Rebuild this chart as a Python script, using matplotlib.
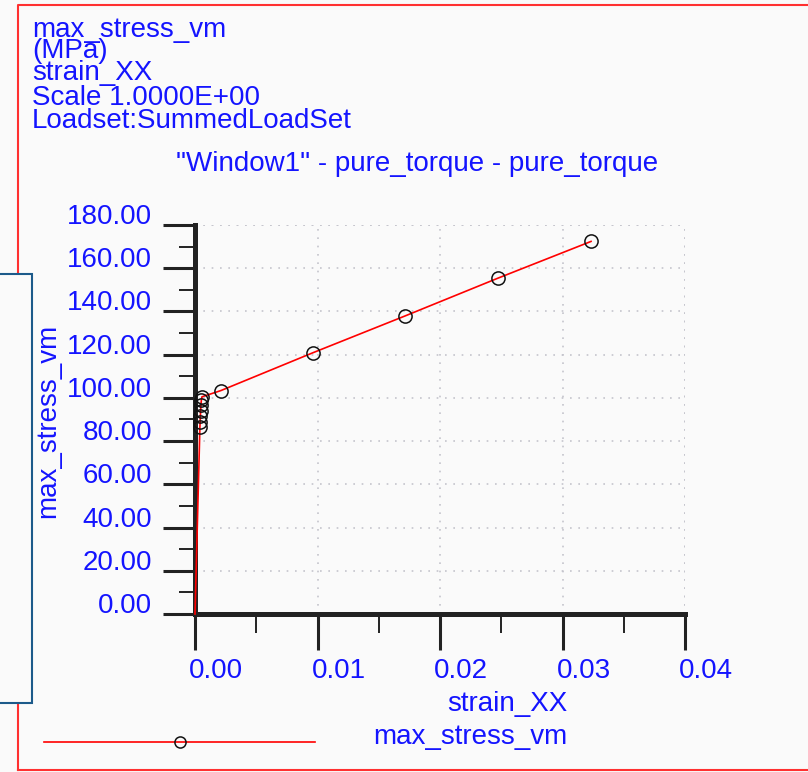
import matplotlib
matplotlib.use("Agg")
import matplotlib.pyplot as plt
from matplotlib.transforms import ScaledTranslation
from matplotlib.patches import Rectangle
from matplotlib.lines import Line2D

# strain / von Mises stress curve
strain = [0.0, 0.00040, 0.00042, 0.00044, 0.00046, 0.00048, 0.00052, 0.00057,
          0.00212, 0.00963, 0.01714, 0.02473, 0.03233]
stress = [0.0, 86.5, 89.0, 91.5, 94.0, 96.5, 99.0, 100.5,
          103.4, 120.9, 137.9, 155.4, 172.4]

x_ticks = [0.00, 0.01, 0.02, 0.03, 0.04]
y_ticks = [0, 20, 40, 60, 80, 100, 120, 140, 160, 180]
header = ["max_stress_vm", "(MPa)", "strain_XX", "Scale 1.0000E+00",
          "Loadset:SummedLoadSet"]
header_base = [37, 58, 80, 105, 128]

W, H = 808, 772
BLUE = "#1414ff"
BG = "#fafafa"
plt.rcParams["font.family"] = ["Liberation Sans", "DejaVu Sans"]

fig = plt.figure(figsize=(W / 100, H / 100), dpi=100, facecolor=BG)


def fx(px):
    return px / W


def fy(py):
    return 1 - py / H


# window frame + overlapping side panel
fig.add_artist(Line2D([fx(18), fx(18), fx(808)], [fy(770), fy(5), fy(5)],
                      color="#ff3030", lw=1.5))
fig.add_artist(Line2D([fx(18), fx(808)], [fy(770), fy(770)], color="#ff3030", lw=1.5))
fig.add_artist(Rectangle((fx(-2), fy(703)), fx(34), fy(274) - fy(703),
                         transform=fig.transFigure, facecolor=BG,
                         edgecolor="#1c5a8a", lw=1.5, zorder=5))

for txt, b in zip(header, header_base):
    fig.text(fx(32), fy(b), txt, color=BLUE, fontsize=20, va="baseline", ha="left")

fig.text(fx(417), fy(171), '"Window1" - pure_torque - pure_torque', color=BLUE,
         fontsize=20, ha="center", va="baseline")

ax = fig.add_axes([fx(195), fy(614), fx(685) - fx(195), fy(225) - fy(614)])
ax.set_facecolor(BG)
ax.set_xlim(0, 0.04)
ax.set_ylim(0, 180)

ax.plot(strain, stress, color="red", lw=1.2, zorder=6, clip_on=False)
ax.plot(strain[1:], stress[1:], ls="none", marker="o", ms=9.5, mfc="none",
        mec="#111111", mew=1.1, zorder=7, clip_on=False)

for s in ["top", "right"]:
    ax.spines[s].set_visible(False)
for s in ["left", "bottom"]:
    ax.spines[s].set_linewidth(3.6)
    ax.spines[s].set_color("#222222")

ax.set_xticks(x_ticks)
ax.set_xticklabels([f"{v:.2f}" for v in x_ticks])
ax.set_xticks([0.005, 0.015, 0.025, 0.035], minor=True)
ax.set_yticks(y_ticks)
ax.set_yticklabels([f"{v:.2f}" for v in y_ticks])
ax.set_yticks(range(10, 180, 20), minor=True)

ax.tick_params(axis="x", which="major", direction="out", length=26, width=2.2,
               color="#222222", labelcolor=BLUE, labelsize=20, pad=6)
ax.tick_params(axis="x", which="minor", direction="out", length=14, width=1.4,
               color="#222222")
ax.tick_params(axis="y", which="major", direction="out", length=23, width=2.2,
               color="#222222", labelcolor=BLUE, labelsize=20, pad=8)
ax.tick_params(axis="y", which="minor", direction="out", length=11.5, width=1.4,
               color="#222222")

ax.grid(True, which="major", color="#c4c4cc", ls=(0, (1, 4)), lw=1.2)
# dotted border lines at the far ends
ax.axvline(0.04, color="#c4c4cc", ls=(0, (1, 4)), lw=1.2)
ax.axhline(180, color="#c4c4cc", ls=(0, (1, 4)), lw=1.2)

dx = ScaledTranslation(21 / 100, 0, fig.dpi_scale_trans)
for lab in ax.get_xticklabels():
    lab.set_transform(lab.get_transform() + dx)
dy = ScaledTranslation(0, 11 / 100, fig.dpi_scale_trans)
for lab in ax.get_yticklabels():
    lab.set_transform(lab.get_transform() + dy)

fig.text(fx(507), fy(711), "strain_XX", color=BLUE, fontsize=20, ha="center",
         va="baseline")
fig.text(fx(48), fy(421), "max_stress_vm", color=BLUE, fontsize=20, ha="center",
         va="center", rotation=90)

# legend
fig.add_artist(Line2D([fx(44), fx(315)], [fy(742), fy(742)], color="red", lw=1.2))
fig.add_artist(Line2D([fx(180)], [fy(742)], ls="none", marker="o", ms=8, mfc="none",
                      mec="#111111", mew=1.1))
fig.text(fx(470), fy(744), "max_stress_vm", color=BLUE, fontsize=20, ha="center",
         va="baseline")

fig.savefig("out.png", dpi=100, facecolor=BG)
